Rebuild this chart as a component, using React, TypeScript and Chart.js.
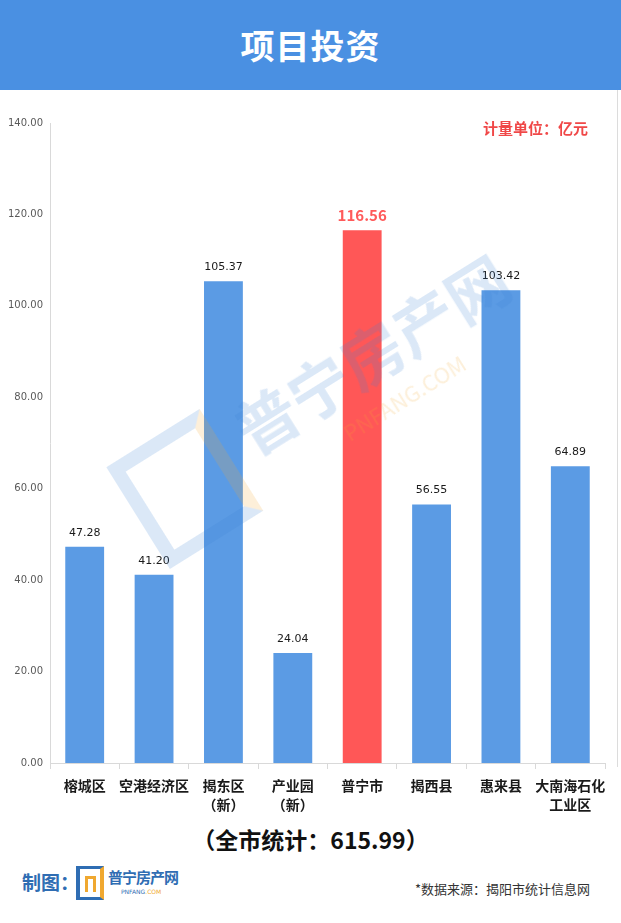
import React, { useEffect, useRef } from "react";
import { Chart, registerables } from "chart.js";
Chart.register(...registerables);

const titleText = "项目投资";
const unitText = "计量单位：亿元";
const totalText = "（全市统计：615.99）";
const sourceText = "*数据来源：揭阳市统计信息网";
const categories: string[][] = [
  ["榕城区"],
  ["空港经济区"],
  ["揭东区", "（新）"],
  ["产业园", "（新）"],
  ["普宁市"],
  ["揭西县"],
  ["惠来县"],
  ["大南海石化", "工业区"],
];
const values = [47.28, 41.2, 105.37, 24.04, 116.56, 56.55, 103.42, 64.89];
const highlightIndex = 4;
const yMin = 0;
const yMax = 140;
const yStep = 20;

const BLUE = "#5b9be4";
const RED = "#ff5757";
const CJK = "'Noto Sans CJK SC', 'Noto Sans', sans-serif";

const valueLabelPlugin = {
  id: "valueLabels",
  afterDatasetsDraw(chart: any) {
    const ctx = chart.ctx;
    const meta = chart.getDatasetMeta(0);
    meta.data.forEach((bar: any, i: number) => {
      const hi = i === highlightIndex;
      ctx.save();
      ctx.font = hi ? `bold 15px ${CJK}` : "11px 'DejaVu Sans', sans-serif";
      ctx.fillStyle = hi ? "#ff5a5a" : "#1a1a1a";
      ctx.textAlign = "center";
      ctx.textBaseline = "middle";
      ctx.fillText(values[i].toFixed(2), bar.x, bar.y - (hi ? 15 : 14));
      ctx.restore();
    });
  },
};

export default function App() {
  const canvasRef = useRef<HTMLCanvasElement | null>(null);

  useEffect(() => {
    document.body.style.margin = "0";
    const canvas = canvasRef.current;
    if (!canvas) return;
    const chart = new Chart(canvas, {
      type: "bar",
      data: {
        labels: categories,
        datasets: [
          {
            data: values,
            backgroundColor: values.map((_, i) => (i === highlightIndex ? RED : BLUE)),
            barPercentage: 0.56,
            categoryPercentage: 1,
            borderWidth: 0,
          },
        ],
      },
      options: {
        responsive: false,
        animation: false,
        layout: { padding: { top: 23, right: 16, left: 0, bottom: 0 } },
        plugins: {
          legend: { display: false },
          tooltip: { enabled: false },
        },
        scales: {
          x: {
            grid: {
              display: true,
              drawOnChartArea: false,
              drawTicks: true,
              tickLength: 6,
              color: "#d9d9d9",
              offset: true,
            },
            border: { display: true, color: "#d9d9d9", width: 1 },
            ticks: {
              color: "#1a1a1a",
              font: { family: CJK, size: 14, weight: "bold", lineHeight: 1.3 },
              padding: 8,
              maxRotation: 0,
              autoSkip: false,
            },
            afterFit: (scale: any) => {
              scale.height = 57;
            },
          },
          y: {
            min: yMin,
            max: yMax,
            grid: { display: false, drawTicks: false },
            border: { display: true, color: "#d9d9d9", width: 1 },
            ticks: {
              stepSize: yStep,
              color: "#595959",
              padding: 7,
              font: { family: "'DejaVu Sans', sans-serif", size: 10 },
              callback: (v: any) => Number(v).toFixed(2),
            },
            afterFit: (scale: any) => {
              scale.width = 50;
            },
          },
        },
      },
      plugins: [valueLabelPlugin],
    });
    return () => chart.destroy();
  }, []);

  return (
    <div
      style={{
        position: "relative",
        width: 621,
        height: 923,
        background: "#fff",
        overflow: "hidden",
        fontFamily: CJK,
      }}
    >
      <div
        style={{
          position: "absolute",
          left: 0,
          top: 0,
          width: 621,
          height: 90,
          background: "#4a90e2",
          color: "#fff",
          fontSize: 34,
          fontWeight: "bold",
          textAlign: "center",
          lineHeight: "90px",
          letterSpacing: 1,
        }}
      >
        {titleText}
      </div>
      <div
        style={{
          position: "absolute",
          left: 617,
          top: 90,
          width: 1,
          height: 677,
          background: "#dcdcdc",
        }}
      />
      <canvas
        ref={canvasRef}
        width={621}
        height={720}
        style={{ position: "absolute", left: 0, top: 100, width: 621, height: 720 }}
      />
      {/* watermark */}
      <div
        style={{
          position: "absolute",
          left: 130,
          top: 330,
          width: 400,
          height: 160,
          transform: "rotate(-32deg)",
          transformOrigin: "center",
          pointerEvents: "none",
          opacity: 0.18,
        }}
      >
        <div
          style={{
            position: "absolute",
            left: -20,
            top: 10,
            width: 110,
            height: 120,
            border: "14px solid #3b7fd0",
            borderRight: "14px solid #f0a830",
            boxSizing: "border-box",
          }}
        />
        <div
          style={{
            position: "absolute",
            left: 110,
            top: 8,
            fontSize: 62,
            fontWeight: "bold",
            color: "#3b7fd0",
            whiteSpace: "nowrap",
          }}
        >
          普宁房产网
        </div>
        <div
          style={{
            position: "absolute",
            left: 200,
            top: 92,
            fontSize: 22,
            color: "#f0a830",
            whiteSpace: "nowrap",
          }}
        >
          PNFANG.COM
        </div>
      </div>
      <div
        style={{
          position: "absolute",
          right: 33,
          top: 117,
          fontSize: 15,
          fontWeight: "bold",
          color: "#f04848",
          whiteSpace: "nowrap",
        }}
      >
        {unitText}
      </div>
      <div
        style={{
          position: "absolute",
          left: 0,
          top: 822,
          width: 621,
          textAlign: "center",
          fontSize: 23,
          fontWeight: "bold",
          color: "#111",
          whiteSpace: "nowrap",
        }}
      >
        {totalText}
      </div>
      {/* footer logo */}
      <div
        style={{
          position: "absolute",
          left: 22,
          top: 868,
          fontSize: 19,
          fontWeight: "bold",
          color: "#2f6db3",
          whiteSpace: "nowrap",
        }}
      >
        制图：
      </div>
      <div
        style={{
          position: "absolute",
          left: 76,
          top: 866,
          width: 28,
          height: 34,
          borderLeft: "4px solid #2f6db3",
          borderTop: "3px solid #2f6db3",
          borderBottom: "3px solid #2f6db3",
          borderRight: "4px solid #f0a830",
          boxSizing: "border-box",
        }}
      >
        <div
          style={{
            position: "absolute",
            left: 5,
            top: 7,
            width: 11,
            height: 16,
            border: "3px solid #f0a830",
            borderBottom: "none",
            boxSizing: "border-box",
          }}
        />
      </div>
      <div
        style={{
          position: "absolute",
          left: 108,
          top: 866,
          fontSize: 15,
          fontWeight: "bold",
          color: "#2f6db3",
          whiteSpace: "nowrap",
          letterSpacing: -1,
        }}
      >
        普宁房产网
      </div>
      <div
        style={{
          position: "absolute",
          left: 121,
          top: 888,
          fontSize: 6,
          color: "#2f6db3",
          whiteSpace: "nowrap",
          fontFamily: "'DejaVu Sans', sans-serif",
        }}
      >
        PNFANG<span style={{ color: "#f0a830" }}>.COM</span>
      </div>
      <div
        style={{
          position: "absolute",
          right: 31,
          top: 879,
          fontSize: 13,
          color: "#333",
          whiteSpace: "nowrap",
        }}
      >
        {sourceText}
      </div>
    </div>
  );
}
